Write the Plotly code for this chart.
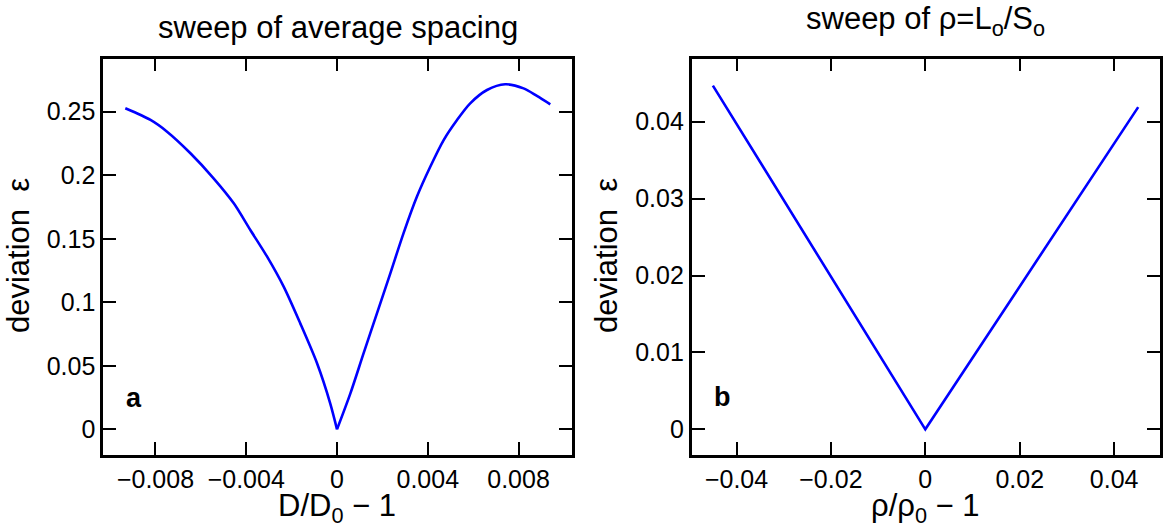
import plotly.graph_objects as go

# ---- data ----
left_x = [-0.00933, -0.00822, -0.00749, -0.00646, -0.00544, -0.00455, -0.00382,
          -0.00308, -0.00235, -0.00162, -0.00088, -0.00030, 0.0,
          0.00059, 0.00117, 0.00176, 0.00235, 0.00293, 0.00352, 0.00411,
          0.00470, 0.00529, 0.00587, 0.00661, 0.00741, 0.00822, 0.00881, 0.00940]
left_y = [0.2527, 0.2435, 0.2343, 0.2173, 0.1976, 0.1779, 0.1569,
          0.1359, 0.1123, 0.0834, 0.0520, 0.0205, 0.0,
          0.0283, 0.0598, 0.0913, 0.1228, 0.1543, 0.1831, 0.2067,
          0.2277, 0.2435, 0.2566, 0.2671, 0.2716, 0.2684, 0.2624, 0.2558]

right_x = [-0.0450, 0.0, 0.0451]
right_y = [0.0447, 0.0, 0.0419]

left_xticks = [-0.008, -0.004, 0, 0.004, 0.008]
left_xtext = ["\u22120.008", "\u22120.004", "0", "0.004", "0.008"]
left_yticks = [0, 0.05, 0.1, 0.15, 0.2, 0.25]
left_ytext = ["0", "0.05", "0.1", "0.15", "0.2", "0.25"]

right_xticks = [-0.04, -0.02, 0, 0.02, 0.04]
right_xtext = ["\u22120.04", "\u22120.02", "0", "0.02", "0.04"]
right_yticks = [0, 0.01, 0.02, 0.03, 0.04]
right_ytext = ["0", "0.01", "0.02", "0.03", "0.04"]

W, H = 1164, 530
FONT = "Liberation Sans, Arial, Helvetica, sans-serif"
BLUE = "#0000FF"

def px_x(p):
    return p / W

def px_y(p):
    return 1 - p / H

# split the left curve at its minimum so the smooth line keeps the sharp vertex
i0 = left_x.index(0.0)

fig = go.Figure()
fig.add_trace(go.Scatter(x=left_x[:i0 + 1], y=left_y[:i0 + 1], mode="lines",
                         line=dict(color=BLUE, width=2.6, shape="spline", smoothing=0.8),
                         xaxis="x", yaxis="y", showlegend=False, hoverinfo="skip"))
fig.add_trace(go.Scatter(x=left_x[i0:], y=left_y[i0:], mode="lines",
                         line=dict(color=BLUE, width=2.6, shape="spline", smoothing=0.8),
                         xaxis="x", yaxis="y", showlegend=False, hoverinfo="skip"))
fig.add_trace(go.Scatter(x=right_x, y=right_y, mode="lines",
                         line=dict(color=BLUE, width=2.6), xaxis="x2", yaxis="y2",
                         showlegend=False, hoverinfo="skip"))

ydom = [px_y(455), px_y(58.5)]
common = dict(showgrid=False, zeroline=False, showline=True, linecolor="black",
              linewidth=2.8, ticks="inside", ticklen=13, tickwidth=2.4,
              tickcolor="black", mirror="allticks",
              tickfont=dict(family=FONT, size=25, color="black"),
              tickmode="array")

fig.update_layout(
    width=W, height=H,
    margin=dict(l=0, r=0, t=0, b=0),
    paper_bgcolor="white", plot_bgcolor="white",
    font=dict(family=FONT, color="black"),
    xaxis=dict(domain=[px_x(103.3), px_x(572.3)], range=[-0.01030, 0.01037],
               tickvals=left_xticks, ticktext=left_xtext, anchor="y", **common),
    yaxis=dict(domain=ydom, range=[-0.0202, 0.2919],
               tickvals=left_yticks, ticktext=left_ytext, anchor="x", **common),
    xaxis2=dict(domain=[px_x(691.7), px_x(1160)], range=[-0.04949, 0.04972],
                tickvals=right_xticks, ticktext=right_xtext, anchor="y2", **common),
    yaxis2=dict(domain=ydom, range=[-0.00334, 0.04822],
                tickvals=right_yticks, ticktext=right_ytext, anchor="x2", **common),
)

ann = []
def add(text, x, y, size, bold=False, angle=0, xa="center", ya="middle"):
    ann.append(dict(text=("<b>%s</b>" % text) if bold else text,
                    x=px_x(x), y=px_y(y), xref="paper", yref="paper",
                    showarrow=False, xanchor=xa, yanchor=ya, textangle=angle,
                    font=dict(family=FONT, size=size, color="black")))

add("sweep of average spacing", 338, 28, 31)
add("sweep of \u03c1=L<sub>o</sub>/S<sub>o</sub>", 925, 21, 31)
add("D/D<sub>0</sub> \u2212 1", 337, 508, 31)
add("\u03c1/\u03c1<sub>0</sub> \u2212 1", 925, 508, 31)
add("deviation  \u03b5", 18, 256, 31, angle=-90)
add("deviation  \u03b5", 606, 256, 31, angle=-90)
add("a", 134, 398, 27, bold=True)
add("b", 722, 397, 27, bold=True)
fig.update_layout(annotations=ann)

fig.write_html("out.html", config={"displayModeBar": False},
               post_script="document.body.style.margin='0';document.body.style.overflow='hidden';")
